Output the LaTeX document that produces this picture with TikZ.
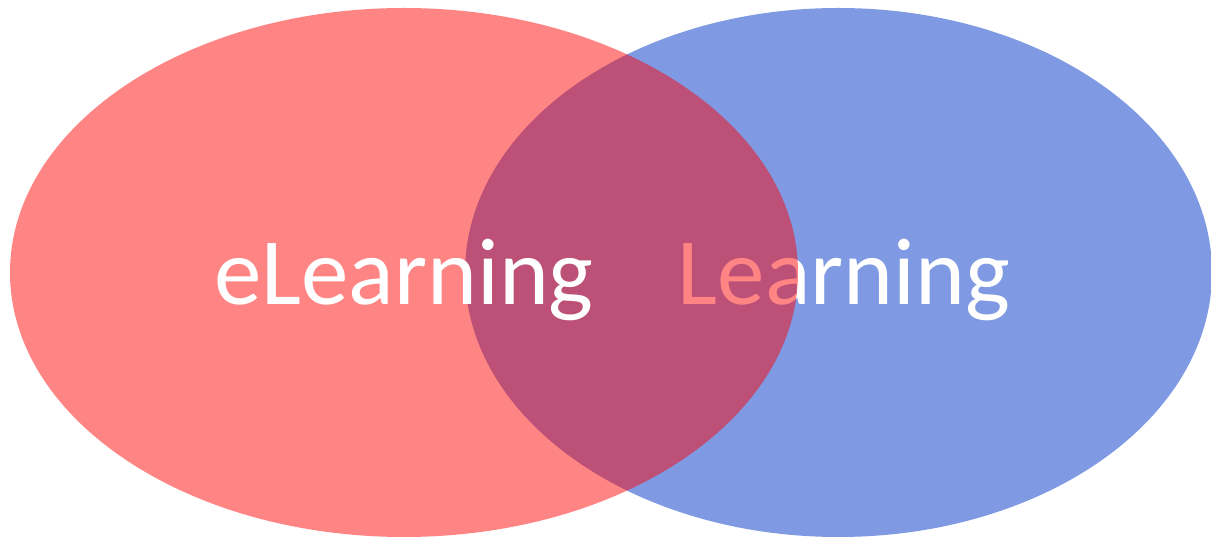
\documentclass[tikz,border=0pt]{standalone}
\usepackage{fontspec}
\setmainfont{Carlito}
\definecolor{setblue}{HTML}{7F9AE3}
\begin{document}
\begin{tikzpicture}[x=1pt,y=1pt,
  setlabel/.style={anchor=base,inner sep=0pt,text=white,font=\fontsize{95}{100}\selectfont}]
\useasboundingbox (0,0) rectangle (1211,538);
% right set, opaque, with its label beneath the translucent left set
\fill[setblue] (838.5,265.5) ellipse [x radius=373.5,y radius=264.5];
\node[setlabel] (learning) at (844,233) {Learning};
% left set, translucent red
\fill[red,fill opacity=0.478] (404,265.5) ellipse [x radius=394,y radius=264.5];
\node[setlabel] (elearning) at (404,233) {eLearning};
\end{tikzpicture}
\end{document}
